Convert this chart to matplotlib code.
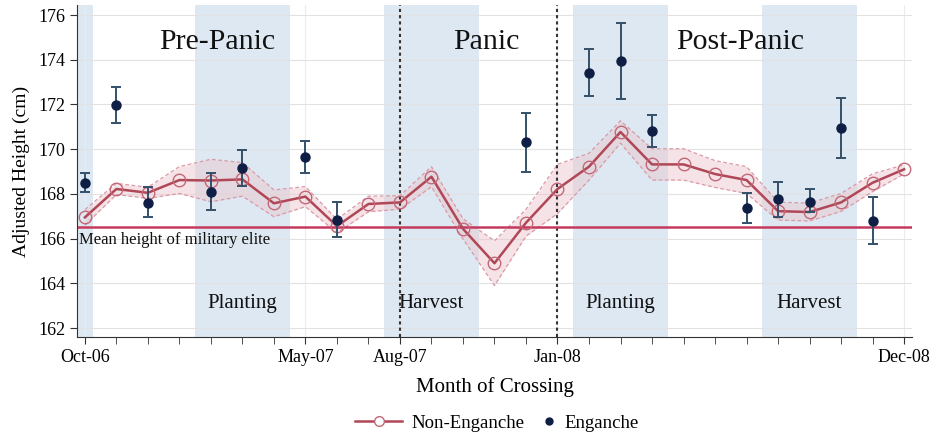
import matplotlib
matplotlib.use("Agg")
import matplotlib.pyplot as plt
from matplotlib.lines import Line2D
import numpy as np

plt.rcParams['font.family'] = ['Liberation Serif', 'DejaVu Serif']

# Months since Oct-06 (0 .. 26)
months = list(range(27))
non_eng = [166.95, 168.22, 168.05, 168.62, 168.60, 168.65, 167.58, 167.88, 166.56,
           167.55, 167.62, 168.77, 166.44, 164.90, 166.71, 168.22, 169.22, 170.77,
           169.32, 169.32, 168.89, 168.62, 167.23, 167.19, 167.62, 168.50, 169.10]
non_eng_ci = [0.35, 0.25, 0.25, 0.6, 0.95, 0.75, 0.6, 0.45, 0.3,
              0.35, 0.3, 0.45, 0.45, 1.0, 0.6, 1.1, 0.6, 0.5,
              0.7, 0.7, 0.6, 0.6, 0.4, 0.4, 0.4, 0.4, 0.2]

eng_months = [0, 1, 2, 4, 5, 7, 8, 14, 16, 17, 18, 21, 22, 23, 24, 25]
eng = [168.50, 171.96, 167.61, 168.07, 169.14, 169.64, 166.83, 170.31, 173.42,
       173.94, 170.81, 167.35, 167.77, 167.62, 170.93, 166.80]
eng_lo = [168.07, 171.17, 166.95, 167.27, 168.37, 168.92, 166.06, 168.99, 172.38,
          172.26, 170.11, 166.71, 166.95, 167.18, 169.62, 165.75]
eng_hi = [168.93, 172.80, 168.29, 168.95, 169.96, 170.38, 167.65, 171.60, 174.48,
          175.63, 171.53, 168.05, 168.55, 168.23, 172.30, 167.85]

mean_elite = 166.5

season_spans = [(-0.5, 0.25), (3.5, 6.5), (9.5, 12.5), (15.5, 18.5), (21.5, 24.5)]
season_labels = [(5.0, "Planting"), (11.0, "Harvest"), (17.0, "Planting"), (23.0, "Harvest")]
period_labels = [(4.2, "Pre-Panic"), (12.75, "Panic"), (20.8, "Post-Panic")]
period_breaks = [10, 15]

tick_pos = [0, 7, 10, 15, 26]
tick_labels = ["Oct-06", "May-07", "Aug-07", "Jan-08", "Dec-08"]

fig = plt.figure(figsize=(9.32, 4.37), dpi=100)
ax = fig.add_axes([0.0826, 0.2288, 0.8959, 0.7598])

for a, b in season_spans:
    ax.axvspan(a, b, color="#dde8f2", lw=0, zorder=0)

ax.set_xlim(-0.25, 26.25)
ax.set_ylim(161.6, 176.45)

ax.set_yticks(range(162, 177, 2))
ax.set_xticks(tick_pos)
ax.set_xticklabels(tick_labels)
ax.set_xticks(months, minor=True)
ax.grid(True, axis="y", color="#e2e2e2", lw=0.8, zorder=0.5)
ax.grid(True, axis="x", which="major", color="#ececec", lw=0.8, zorder=0.5)
ax.set_axisbelow(True)

for xb in period_breaks:
    ax.axvline(xb, color="#333333", ls=(0, (1.5, 1.5)), lw=1.5, zorder=2)

x = np.array(months)
y = np.array(non_eng)
ci = np.array(non_eng_ci)
ax.fill_between(x, y - ci, y + ci, color="#ebc3cb", alpha=0.45, lw=0, zorder=1.5)
ax.plot(x, y + ci, color="#d99aa6", ls=(0, (3, 2)), lw=0.9, zorder=1.6)
ax.plot(x, y - ci, color="#d99aa6", ls=(0, (3, 2)), lw=0.9, zorder=1.6)

ax.axhline(mean_elite, color="#c43a5e", lw=1.8, zorder=2.5)

ax.plot(x, y, color="#b04757", lw=1.8, marker="o", ms=9, mfc="none",
        mec="#c46878", mew=1.0, zorder=3)

em = np.array(eng)
ax.errorbar(eng_months, em, yerr=[em - np.array(eng_lo), np.array(eng_hi) - em],
            fmt="none", ecolor="#34506a", elinewidth=1.4, capsize=3.5, capthick=1.4, zorder=4)
ax.plot(eng_months, em, ls="none", marker="o", ms=6.5, color="#0e1e44", zorder=5)

for xp, txt in period_labels:
    ax.text(xp, 174.8, txt, ha="center", va="center", fontsize=21.5, color="#111111")
for xp, txt in season_labels:
    ax.text(xp, 163.1, txt, ha="center", va="center", fontsize=15, color="#111111")
ax.text(-0.2, 166.3, "Mean height of military elite", ha="left", va="top",
        fontsize=12, color="#111111")

ax.tick_params(axis="both", which="major", length=5, labelsize=13, color="#333333")
ax.tick_params(axis="x", which="minor", length=5, color="#333333")
for s in ["top", "right"]:
    ax.spines[s].set_visible(False)
for s in ["left", "bottom"]:
    ax.spines[s].set_color("#333333")

ax.set_ylabel("Adjusted Height (cm)", fontsize=14, labelpad=6)
ax.set_xlabel("Month of Crossing", fontsize=15, labelpad=8)

h1 = Line2D([], [], color="#b04757", lw=1.8, marker="o", ms=7, mfc="white",
            mec="#c46878", mew=1.0)
h2 = Line2D([], [], ls="none", marker="o", ms=5, color="#0e1e44")
leg1 = fig.legend([h1], ["Non-Enganche"], loc="center", bbox_to_anchor=(0.472, 0.032),
                  frameon=False, fontsize=13.5, handlelength=2.5, handletextpad=0.5)
leg2 = fig.legend([h2], ["Enganche"], loc="center", bbox_to_anchor=(0.633, 0.032),
                  frameon=False, fontsize=13.5, handlelength=0.8, handletextpad=0.4)

fig.savefig("out.png", dpi=100)
